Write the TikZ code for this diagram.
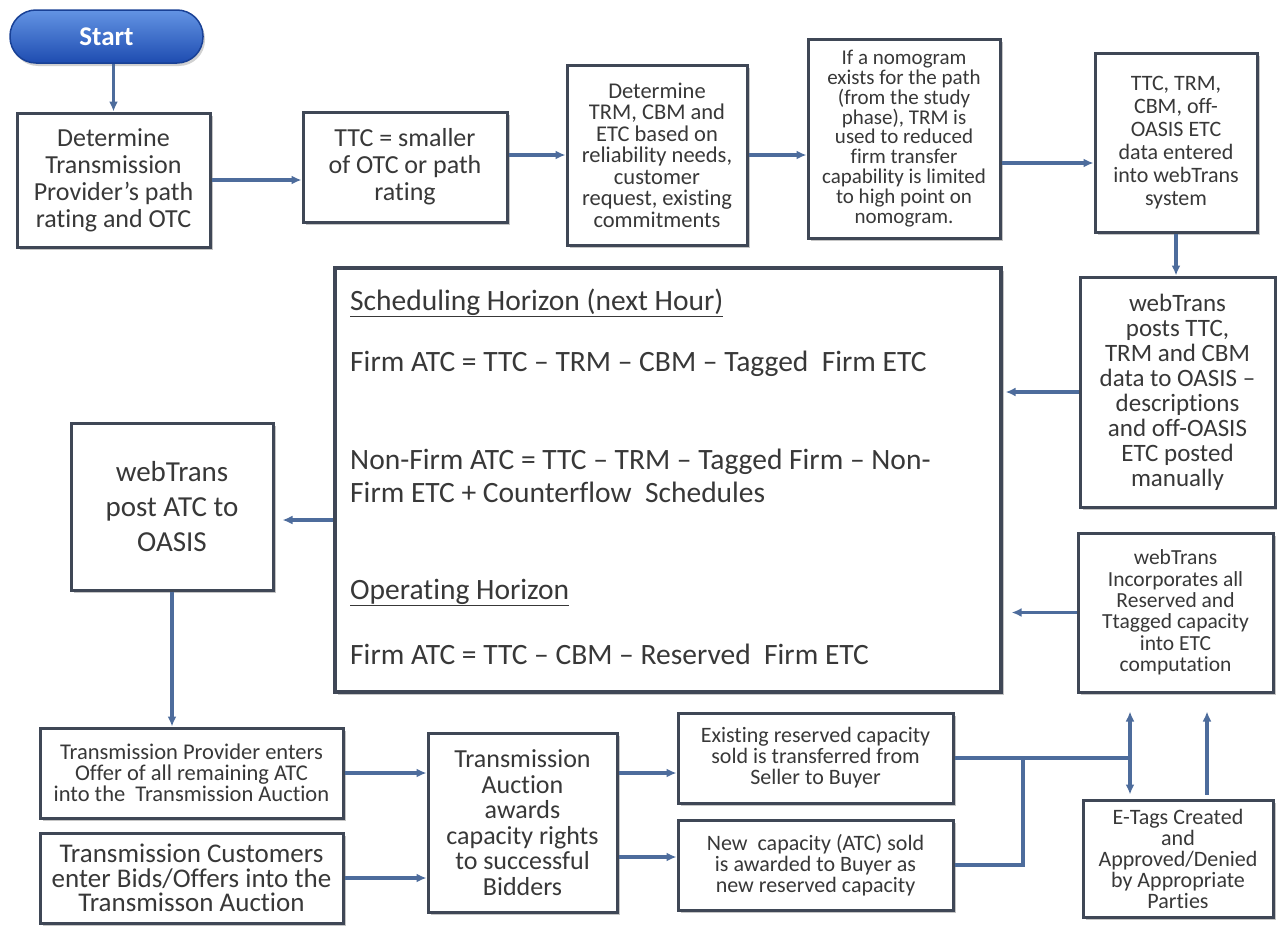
\documentclass[tikz,border=0pt]{standalone}
\usepackage{fontspec}
\setmainfont{Carlito}[Ligatures=NoCommon]
\usetikzlibrary{arrows.meta,shadows,calc}
\definecolor{bordc}{HTML}{3F4756}
\definecolor{arrc}{HTML}{4D6C9C}
\definecolor{txtc}{HTML}{383838}
\definecolor{startT}{HTML}{6394E4}
\definecolor{startB}{HTML}{1E4CB0}
\newcommand\fsz[2]{\fontsize{#1}{#2}\selectfont}
\begin{document}
\begin{tikzpicture}[x=1pt,y=-1pt,
  box/.style={draw=bordc, line width=3pt, fill=white, align=center, inner sep=2pt, text=txtc,
    drop shadow={shadow xshift=3pt,shadow yshift=-3pt,fill=black!50,opacity=0.45}},
  arr/.style={draw=arrc, line width=3.4pt, -{Latex[length=10pt,width=9pt]}},
  dblarr/.style={draw=arrc, line width=3.4pt, {Latex[length=10pt,width=9pt]}-{Latex[length=10pt,width=9pt]}},
  ln/.style={draw=arrc, line width=3.4pt},
  btxt/.style={anchor=base west, text=txtc, inner sep=0pt, font=\fsz{29.5}{33}},
]
\useasboundingbox (0,0) rectangle (1277,926);
\fill[white] (0,0) rectangle (1277,926);

% start
\node[draw=startB!85!black, line width=1.5pt, rounded corners=26pt, top color=startT, bottom color=startB,
  minimum width=193pt, minimum height=53pt, text=white, font=\fsz{27}{30}\bfseries,
  drop shadow={shadow xshift=2pt,shadow yshift=-3pt,fill=black!45,opacity=0.4}] (start) at (106.5,36.5) {Start};

% top row
\node[box, minimum width=193pt, minimum height=134pt, font=\fsz{26}{27}] (b1) at (113.5,180)
  {Determine\\Transmission\\Provider’s path\\rating and OTC};
\node[box, minimum width=204pt, minimum height=110pt, font=\fsz{26}{27}] (b2) at (405,167)
  {TTC = smaller\\of OTC or path\\rating};
\node[box, minimum width=180pt, minimum height=180pt, font=\fsz{22.5}{21.5}] (b3) at (657,155)
  {Determine\\TRM, CBM and\\ETC based on\\reliability needs,\\customer\\request, existing\\commitments};
\node[box, minimum width=192pt, minimum height=199pt, font=\fsz{21}{19.8}] (b4) at (904,138.5)
  {If a nomogram\\exists for the path\\(from the study\\phase), TRM is\\used to reduced\\firm transfer\\capability is limited\\to high point on\\nomogram.};
\node[box, minimum width=162pt, minimum height=179pt, font=\fsz{22}{23}] (b5) at (1176,142.5)
  {TTC, TRM,\\CBM, off-\\OASIS ETC\\data entered\\into webTrans\\system};

% right column
\node[box, minimum width=195pt, minimum height=230pt, font=\fsz{25}{25}] (b6) at (1177.5,392)
  {webTrans\\posts TTC,\\TRM and CBM\\data to OASIS –\\descriptions\\and off-OASIS\\ETC posted\\manually};
\node[box, minimum width=195pt, minimum height=159pt, font=\fsz{21.5}{21.3}] (b13) at (1175.5,612.5)
  {webTrans\\Incorporates all\\Reserved and\\Ttagged capacity\\into ETC\\computation};
\node[box, minimum width=190pt, minimum height=117pt, font=\fsz{22}{21}] (b14) at (1178,858.5)
  {E-Tags Created\\and\\Approved/Denied\\by Appropriate\\Parties};

% big box
\node[box, minimum width=666pt, minimum height=424pt, line width=3.2pt] (big) at (668,480) {};
\node[btxt] (t1) at (350,310) {\underline{Scheduling Horizon (next Hour)}};
\node[btxt] (t2) at (350,371) {Firm ATC = TTC – TRM – CBM – Tagged\ \ Firm ETC};
\node[btxt] (t3) at (350,469) {Non-Firm ATC = TTC – TRM – Tagged Firm – Non-};
\node[btxt] (t4) at (350,502) {Firm ETC + Counterflow\ \ Schedules};
\node[btxt] (t5) at (350,599) {\underline{Operating Horizon}};
\node[btxt] (t6) at (350,664) {Firm ATC = TTC – CBM – Reserved\ \ Firm ETC};

% left column
\node[box, minimum width=202pt, minimum height=167pt, font=\fsz{29}{35}] (b7) at (172,506.5)
  {webTrans\\post ATC to\\OASIS};
\node[box, minimum width=303pt, minimum height=90pt, font=\fsz{22.5}{21}] (b8) at (191.5,773)
  {Transmission Provider enters\\Offer of all remaining ATC\\into the\ \ Transmission Auction};
\node[box, minimum width=303pt, minimum height=90pt, font=\fsz{27}{24.5}] (b9) at (191.5,878)
  {Transmission Customers\\enter Bids/Offers into the\\Transmisson Auction};

% bottom middle
\node[box, minimum width=189pt, minimum height=179pt, font=\fsz{26}{25.5}] (b10) at (522.5,822.5)
  {Transmission\\Auction\\awards\\capacity rights\\to successful\\Bidders};
\node[box, minimum width=275pt, minimum height=90pt, font=\fsz{22}{21}] (b11) at (815.5,758)
  {Existing reserved capacity\\sold is transferred from\\Seller to Buyer};
\node[box, minimum width=275pt, minimum height=90pt, font=\fsz{22}{21}] (b12) at (815.5,865)
  {New\ \ capacity (ATC) sold\\is awarded to Buyer as\\new reserved capacity};

% helper coordinates
\coordinate (dx) at (1130,760);
\coordinate (mx) at (1023,760);
\coordinate (ex) at (1207,760);

% connectors
\draw[arr] (b1.north |- start.south) -- (b1.north);
\draw[arr] (b1.east) -- (b1.east -| b2.west);
\draw[arr] (b2.east |- b3.west) -- (b3.west);
\draw[arr] (b3.east) -- (b3.east -| b4.west);
\draw[arr] ([yshift=-24.5pt]b4.east) -- ([yshift=-24.5pt]b4.east -| b5.west);
\draw[arr] (b5.south) -- (b5.south |- b6.north);
\draw[arr, shorten >=3pt] (b6.west) -- (b6.west -| big.east);
\draw[arr, shorten >=9pt] (b13.west) -- (b13.west -| big.east);
\draw[arr, shorten >=8pt] ([yshift=-40pt]big.west) -- ([yshift=-40pt]big.west -| b7.east);
\draw[arr] (b7.south) -- (b7.south |- b8.north);
\draw[arr] (b8.east) -- (b8.east -| b10.west);
\draw[arr] (b9.east) -- (b9.east -| b10.west);
\draw[arr] (b10.east |- b8.east) -- (b8.east -| b11.west);
\draw[arr] ([yshift=8pt]b12.west -| b10.east) -- ([yshift=8pt]b12.west);
\draw[ln] (b11.east) -- (b11.east -| dx);
\draw[ln] (b12.east) -| (b11.east -| mx);
\draw[dblarr, shorten <=18pt, shorten >=4pt] (b13.south -| dx) -- (b14.north -| dx);
\draw[arr, shorten >=18pt, shorten <=4pt] (b14.north -| ex) -- (b13.south -| ex);
\end{tikzpicture}
\end{document}
